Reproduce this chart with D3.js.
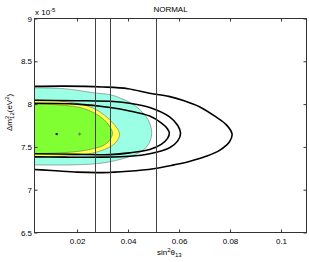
<!DOCTYPE html>
<html>
<head>
<meta charset="utf-8">
<script src="https://cdn.jsdelivr.net/npm/d3@7"></script>
<style>
  body { margin: 0; background: #fff; }
  svg { display: block; font-family: "Liberation Sans", Arial, sans-serif; }
  .ax text { font-size: 8px; fill: #000; }
  .ax line { stroke: #333; }
</style>
</head>
<body>
<div id="chart"></div>
<script>
// region fills (sin^2 theta13, dm2 in 1e-5 eV^2)
var cyanRegion = [[0, 8.19], [0.015, 8.18], [0.027, 8.13], [0.033, 8.11], [0.037, 8.07], [0.0418, 8.0],
  [0.0455, 7.91], [0.0478, 7.82], [0.049, 7.73], [0.0493, 7.66], [0.0488, 7.58], [0.0473, 7.5],
  [0.0448, 7.44], [0.041, 7.39], [0.035, 7.34], [0.028, 7.305], [0.018, 7.29], [0, 7.29]];
var yellowRegion = [[0, 8.05], [0.0132, 8.035], [0.0211, 8.0], [0.0265, 7.95], [0.0308, 7.87], [0.034, 7.78],
  [0.0359, 7.71], [0.0367, 7.65], [0.0359, 7.58], [0.034, 7.52], [0.0308, 7.47], [0.0265, 7.43],
  [0.0211, 7.405], [0.0132, 7.39], [0, 7.385]];
var greenRegion = [[0, 8.0], [0.0132, 7.99], [0.0211, 7.96], [0.0265, 7.9], [0.0305, 7.82], [0.0328, 7.74],
  [0.0339, 7.66], [0.0328, 7.58], [0.0305, 7.52], [0.0265, 7.48], [0.0211, 7.45], [0.0132, 7.43], [0, 7.42]];

// black contours
var outerLine = [[0, 8.205], [0.015, 8.21], [0.03, 8.2], [0.04, 8.18], [0.048, 8.13], [0.056, 8.09],
  [0.062, 8.04], [0.068, 7.97], [0.0745, 7.85], [0.0785, 7.76], [0.0808, 7.65], [0.0798, 7.56],
  [0.0759, 7.46], [0.0706, 7.39], [0.064, 7.33], [0.058, 7.29], [0.05, 7.245], [0.04, 7.215],
  [0.03, 7.2], [0.02, 7.205], [0.01, 7.225], [0, 7.24]];
var midLine = [[0, 8.045], [0.02, 8.04], [0.0344, 8.03], [0.0406, 8.01], [0.0485, 7.96], [0.0563, 7.85],
  [0.0595, 7.75], [0.0606, 7.66], [0.0595, 7.57], [0.0563, 7.49], [0.0485, 7.42], [0.0406, 7.39],
  [0.03, 7.38], [0.015, 7.38], [0, 7.385]];
var innerLine = [[0, 8.01], [0.02, 8.0], [0.033, 7.96], [0.0406, 7.92], [0.0485, 7.86], [0.053, 7.78],
  [0.0555, 7.71], [0.0562, 7.66], [0.0555, 7.6], [0.053, 7.53], [0.0485, 7.47], [0.0406, 7.43],
  [0.033, 7.41], [0.02, 7.415], [0, 7.42]];

var vLines = [0.0272, 0.0329, 0.0511];
var bestFit = [[0.012, 7.65]];
var altFit = [[0.021, 7.65]];

var xTicks = [0.02, 0.04, 0.06, 0.08, 0.1];
var yTicks = [6.5, 7, 7.5, 8, 8.5, 9];

var W = 309, H = 262;
var x = d3.scaleLinear().domain([0.0033, 0.11]).range([34.5, 306.5]);
var y = d3.scaleLinear().domain([6.5, 9]).range([232.5, 18.5]);

var svg = d3.select('#chart').append('svg').attr('width', W).attr('height', H);

svg.append('clipPath').attr('id', 'clip')
  .append('rect').attr('x', 34.5).attr('y', 18.5).attr('width', 272).attr('height', 214);

var line = d3.line()
  .x(function(d) { return x(d[0]); })
  .y(function(d) { return y(d[1]); })
  .curve(d3.curveCatmullRom.alpha(0.5));

var plot = svg.append('g').attr('clip-path', 'url(#clip)');

plot.append('path').attr('d', line(cyanRegion)).attr('fill', '#9bffe6').attr('stroke', '#555').attr('stroke-width', 0.5);
plot.append('path').attr('d', line(yellowRegion)).attr('fill', '#ffff4d').attr('stroke', '#555').attr('stroke-width', 0.5);
plot.append('path').attr('d', line(greenRegion)).attr('fill', '#80ff33').attr('stroke', '#555').attr('stroke-width', 0.5);

[outerLine, midLine, innerLine].forEach(function(c) {
  plot.append('path').attr('d', line(c)).attr('fill', 'none').attr('stroke', '#000').attr('stroke-width', 1.6);
});

plot.selectAll('line.v').data(vLines).enter().append('line')
  .attr('class', 'v')
  .attr('x1', function(d) { return Math.round(x(d)) + 0.5; })
  .attr('x2', function(d) { return Math.round(x(d)) + 0.5; })
  .attr('y1', 18.5).attr('y2', 232.5)
  .attr('stroke', '#444').attr('stroke-width', 1);

plot.selectAll('rect.bf').data(bestFit).enter().append('rect')
  .attr('class', 'bf')
  .attr('x', function(d) { return x(d[0]) - 1; })
  .attr('y', function(d) { return y(d[1]) - 1; })
  .attr('width', 2).attr('height', 2).attr('fill', '#000');

altFit.forEach(function(d) {
  var cx = x(d[0]), cy = y(d[1]);
  plot.append('path')
    .attr('d', 'M' + (cx - 1.5) + ',' + cy + 'H' + (cx + 1.5) + 'M' + cx + ',' + (cy - 1.5) + 'V' + (cy + 1.5))
    .attr('stroke', '#5a7a5a').attr('stroke-width', 1);
});

// axes, ticks inside
var gB = svg.append('g').attr('class', 'ax').attr('transform', 'translate(0,232.5)')
  .call(d3.axisBottom(x).tickValues(xTicks).tickSize(-3).tickSizeOuter(0).tickPadding(5.5)
    .tickFormat(function(d) { return d === 0.1 ? '0.1' : d3.format('.2f')(d); }));
var gT = svg.append('g').attr('class', 'ax').attr('transform', 'translate(0,18.5)')
  .call(d3.axisTop(x).tickValues(xTicks).tickSize(-3).tickSizeOuter(0).tickFormat(''));
var gL = svg.append('g').attr('class', 'ax').attr('transform', 'translate(34.5,0)')
  .call(d3.axisLeft(y).tickValues(yTicks).tickSize(-3).tickSizeOuter(0).tickPadding(2.5)
    .tickFormat(function(d) { return String(d); }));
var gR = svg.append('g').attr('class', 'ax').attr('transform', 'translate(306.5,0)')
  .call(d3.axisRight(y).tickValues(yTicks).tickSize(-3).tickSizeOuter(0).tickFormat(''));
svg.selectAll('.ax .domain').remove();

svg.append('rect').attr('x', 34.5).attr('y', 18.5).attr('width', 272).attr('height', 214)
  .attr('fill', 'none').attr('stroke', '#333').attr('stroke-width', 1);

// title and labels
svg.append('text').attr('x', 170.5).attr('y', 11.5).attr('text-anchor', 'middle')
  .attr('font-size', 8).text('NORMAL');

var ex = svg.append('text').attr('x', 35).attr('y', 15).attr('font-size', 8);
ex.append('tspan').text('x 10');
ex.append('tspan').attr('font-size', 6).attr('dy', -3.5).text('-5');

var xl = svg.append('text').attr('x', 157).attr('y', 255).attr('font-size', 8);
xl.append('tspan').text('sin');
xl.append('tspan').attr('font-size', 6).attr('dy', -3).text('2');
xl.append('tspan').attr('dy', 3).text('θ');
xl.append('tspan').attr('font-size', 6).attr('dy', 2).text('13');

var yl = svg.append('text').attr('transform', 'translate(12,131) rotate(-90)').attr('font-size', 8);
yl.append('tspan').text('Δm');
yl.append('tspan').attr('font-size', 6).attr('dy', -3).text('2');
yl.append('tspan').attr('font-size', 6).attr('dx', -3.3).attr('dy', 5).text('12');
yl.append('tspan').attr('dy', -2).text('(eV');
yl.append('tspan').attr('font-size', 6).attr('dy', -3).text('2');
yl.append('tspan').attr('dy', 3).text(')');
</script>
</body>
</html>
